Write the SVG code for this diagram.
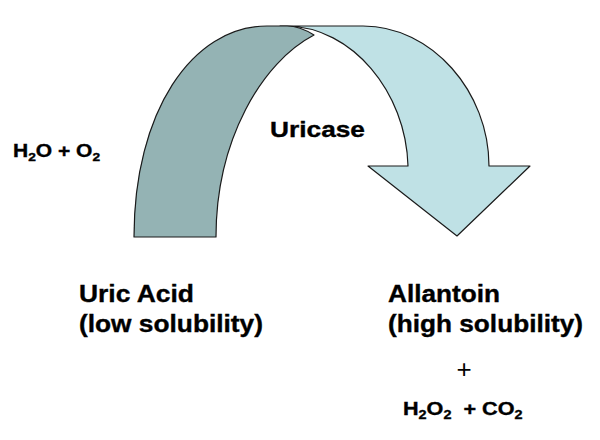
<svg xmlns="http://www.w3.org/2000/svg" width="600" height="440" viewBox="0 0 600 440">
<style>
.t{font-family:"Liberation Sans",Arial,sans-serif;font-weight:bold;fill:#000;stroke:#000;stroke-width:0.35}
.band{stroke:#1a1a1a;stroke-width:1.2;stroke-linejoin:round}
</style>
<rect width="600" height="440" fill="#fff"/>
<g id="arrow">
<path class="band" fill="#bfe1e5" d="M280,26 L363,26 C432,26 489,92 489,166 L530,166 L457,236 L368,166 L408,166 C406,92 352,27 287,26 Z"/>
<path class="band" fill="#94b3b4" d="M134,237 C134,112 192,26 267,26 L287,26 C297,26 306,30 314,35 C262,62 216,140 216,237 Z"/>
</g>
<g id="enzyme">
<text class="t" x="270" y="137" font-size="22" textLength="95" lengthAdjust="spacingAndGlyphs">Uricase</text>
</g>
<g id="reactants">
<text class="t" font-size="17.5" transform="translate(13,157) scale(1.2,1)">H<tspan font-size="11.5" dy="4">2</tspan><tspan dy="-4">O + O</tspan><tspan font-size="11.5" dy="4">2</tspan></text>
</g>
<g id="uric-acid">
<text class="t" x="79" y="302" font-size="23" textLength="115" lengthAdjust="spacingAndGlyphs">Uric Acid</text>
<text class="t" x="79" y="332" font-size="23" textLength="184" lengthAdjust="spacingAndGlyphs">(low solubility)</text>
</g>
<g id="allantoin">
<text class="t" x="388" y="302" font-size="23" textLength="112" lengthAdjust="spacingAndGlyphs">Allantoin</text>
<text class="t" x="388" y="332" font-size="23" textLength="195" lengthAdjust="spacingAndGlyphs">(high solubility)</text>
</g>
<g id="products">
<text x="464" y="378" font-family="Liberation Sans, Arial, sans-serif" font-size="26" fill="#000" text-anchor="middle">+</text>
<text class="t" font-size="18" transform="translate(403,415) scale(1.2,1)">H<tspan font-size="12" dy="4">2</tspan><tspan dy="-4">O</tspan><tspan font-size="12" dy="4">2</tspan><tspan dy="-4" xml:space="preserve">  + CO</tspan><tspan font-size="12" dy="4">2</tspan></text>
</g>
</svg>
